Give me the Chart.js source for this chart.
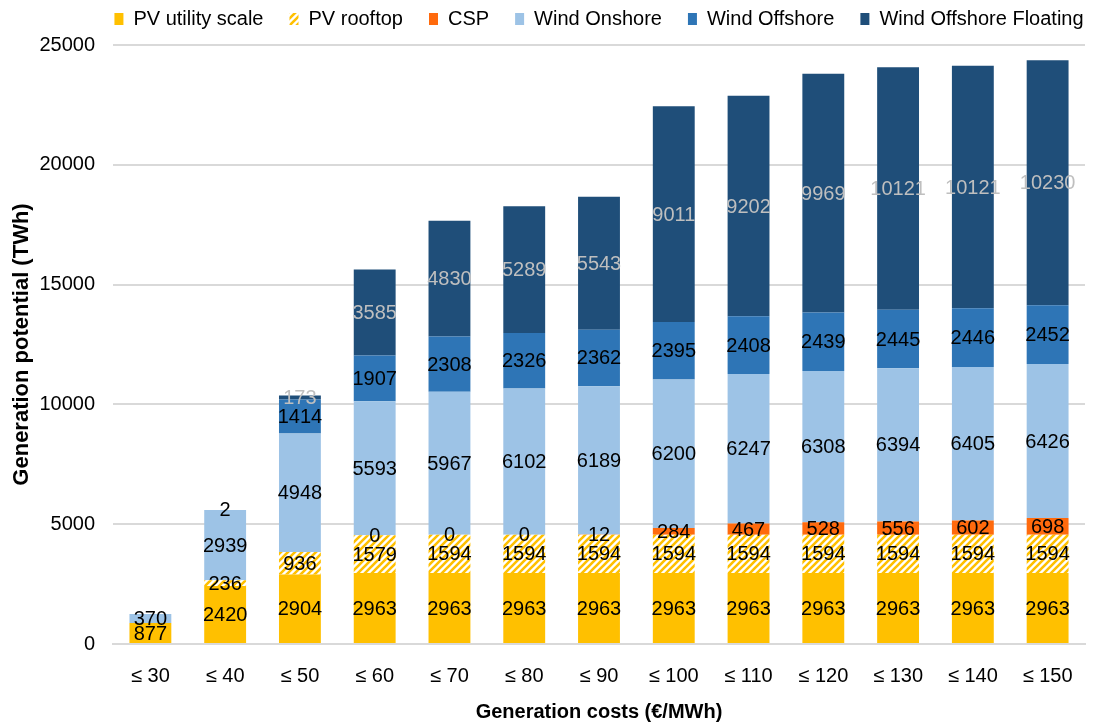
<!DOCTYPE html>
<html>
<head>
<meta charset="utf-8">
<script src="https://cdn.jsdelivr.net/npm/chart.js@4.4.1/dist/chart.umd.min.js"></script>
<style>
  html, body { margin: 0; padding: 0; background: #fff; }
  #wrap { width: 1093px; height: 724px; }
</style>
</head>
<body>
<div id="wrap"><canvas id="potentialChart"></canvas></div>
<script>
    "use strict";

    var categories = ["≤ 30", "≤ 40", "≤ 50", "≤ 60", "≤ 70", "≤ 80", "≤ 90", "≤ 100", "≤ 110", "≤ 120", "≤ 130", "≤ 140", "≤ 150"];

    var pvUtility     = [877, 2420, 2904, 2963, 2963, 2963, 2963, 2963, 2963, 2963, 2963, 2963, 2963];
    var pvRooftop     = [null, 236, 936, 1579, 1594, 1594, 1594, 1594, 1594, 1594, 1594, 1594, 1594];
    var csp           = [null, null, null, 0, 0, 0, 12, 284, 467, 528, 556, 602, 698];
    var windOnshore   = [370, 2939, 4948, 5593, 5967, 6102, 6189, 6200, 6247, 6308, 6394, 6405, 6426];
    var windOffshore  = [null, 2, 1414, 1907, 2308, 2326, 2362, 2395, 2408, 2439, 2445, 2446, 2452];
    var windFloating  = [null, null, 173, 3585, 4830, 5289, 5543, 9011, 9202, 9969, 10121, 10121, 10230];

    var yTicks = [0, 5000, 10000, 15000, 20000, 25000];

    // hatched fill for rooftop PV
    function makeHatch() {
        var c = document.createElement("canvas");
        c.width = 7; c.height = 7;
        var g = c.getContext("2d");
        g.fillStyle = "#ffffff";
        g.fillRect(0, 0, 7, 7);
        g.strokeStyle = "#FFC000";
        g.lineWidth = 2.6;
        g.beginPath();
        g.moveTo(-2, 9); g.lineTo(9, -2);
        g.moveTo(-5, 5); g.lineTo(5, -5);
        g.moveTo(2, 12); g.lineTo(12, 2);
        g.stroke();
        return g.createPattern(c, "repeat");
    }

    // value labels in the middle of each segment
    var labelPlugin = {
        id: "barLabels",
        afterDatasetsDraw: function (chart) {
            var ctx = chart.ctx;
            ctx.save();
            ctx.font = "20px 'Liberation Sans', Arial, sans-serif";
            ctx.textAlign = "center";
            ctx.textBaseline = "middle";
            chart.data.datasets.forEach(function (ds, i) {
                var meta = chart.getDatasetMeta(i);
                meta.data.forEach(function (bar, j) {
                    var v = ds.data[j];
                    if (v === null || v === undefined) return;
                    ctx.fillStyle = ds.labelColor;
                    ctx.fillText(String(v), bar.x, (bar.y + bar.base) / 2 + 1);
                });
            });
            ctx.restore();
        }
    };

    // wide legend spacing without a tall legend box, centred over the plot
    var legendFit = {
        id: "legendFit",
        beforeInit: function (chart) {
            var fit = chart.legend.fit;
            chart.legend.fit = function () {
                fit.call(this);
                this.height += 6;
            };
        },
        afterLayout: function (chart) {
            chart.legend.left = chart.chartArea.left - 60;
            chart.legend.right = chart.chartArea.right + 60;
        }
    };

    Chart.defaults.font.family = "'Liberation Sans', Arial, sans-serif";
    Chart.defaults.color = "#000";

    var ctx = document.getElementById("potentialChart");
    var myChart = new Chart(ctx, {
        type: 'bar',
        data: {
            labels: categories,
            datasets: [
                { label: "PV utility scale", data: pvUtility, backgroundColor: "#FFC000", labelColor: "#000" },
                { label: "PV rooftop", data: pvRooftop, backgroundColor: makeHatch(), labelColor: "#000" },
                { label: "CSP", data: csp, backgroundColor: "#FF6A0D", labelColor: "#000" },
                { label: "Wind Onshore", data: windOnshore, backgroundColor: "#9DC3E6", labelColor: "#000" },
                { label: "Wind Offshore", data: windOffshore, backgroundColor: "#2E75B6", labelColor: "#000" },
                { label: "Wind Offshore Floating", data: windFloating, backgroundColor: "#1F4E79", labelColor: "#BFBFBF" }
            ]
        },
        options: {
            responsive: true,
            maintainAspectRatio: false,
            animation: false,
            layout: { padding: { left: 9, right: 8, top: -17, bottom: 0 } },
            datasets: { bar: { categoryPercentage: 1, barPercentage: 0.56 } },
            plugins: {
                legend: {
                    position: 'top',
                    align: 'center',
                    labels: {
                        boxWidth: 9, boxHeight: 12,
                        font: { size: 20 },
                        padding: 26,
                        color: "#000"
                    }
                },
                tooltip: { enabled: false }
            },
            scales: {
                x: {
                    stacked: true,
                    grid: { display: false },
                    border: { color: "#D9D9D9", width: 2 },
                    ticks: { font: { size: 20 }, color: "#000", padding: 12 },
                    title: { display: true, text: "Generation costs (€/MWh)", font: { size: 20, weight: "bold" }, color: "#000", padding: { top: 0, bottom: 0 } }
                },
                y: {
                    stacked: true,
                    min: 0, max: 25000,
                    afterBuildTicks: function (axis) {
                        axis.ticks = yTicks.map(function (v) { return { value: v }; });
                    },
                    afterFit: function (axis) { axis.width = 104; },
                    grid: { color: "#D9D9D9", lineWidth: 2, drawTicks: false },
                    border: { display: false },
                    ticks: { font: { size: 20 }, color: "#000", padding: 18, callback: function (v) { return String(v); } },
                    title: { display: true, text: "Generation potential (TWh)", font: { size: 22, weight: "bold" }, color: "#000", padding: { top: 0, bottom: 0 } }
                }
            }
        },
        plugins: [labelPlugin, legendFit]
    });
</script>
</body>
</html>
